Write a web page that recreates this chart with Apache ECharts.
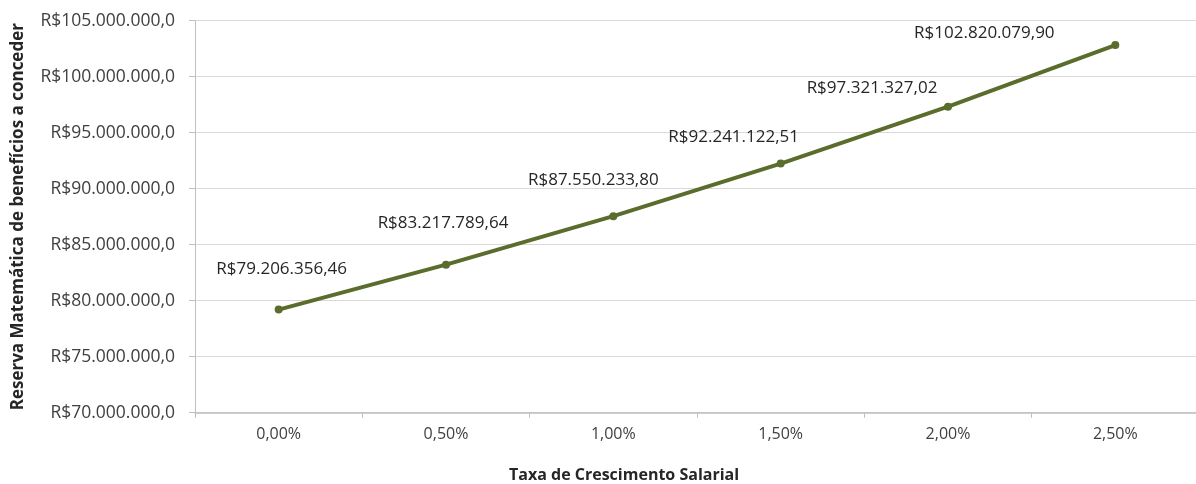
<!DOCTYPE html>
<html>
<head>
<meta charset="utf-8">
<script src="https://cdn.jsdelivr.net/npm/echarts@6/dist/echarts.min.js"></script>
<style>
html,body{margin:0;padding:0;background:#fff;}
#c{width:1196px;height:484px;}
</style>
</head>
<body>
<div id="c"></div>
<script>
const categories = ['0,00%', '0,50%', '1,00%', '1,50%', '2,00%', '2,50%'];
const values = [79206356.46, 83217789.64, 87550233.80, 92241122.51, 97321327.02, 102820079.90];
const yMin = 70000000, yMax = 105000000, yStep = 5000000;
const yAxisTitle = 'Reserva Matemática de benefícios a conceder';
const xAxisTitle = 'Taxa de Crescimento Salarial';
// label placement offsets (dx, dy) relative to each point
const labelOffsets = [[3, -40], [-3, -41], [-20, -35], [-47, -26], [-76, -18], [-131, -11]];

function fmtBR(v, dec) {
  const s = v.toFixed(dec);
  const parts = s.split('.');
  const int = parts[0].replace(/\B(?=(\d{3})+(?!\d))/g, '.');
  return 'R$' + int + (dec > 0 ? ',' + parts[1] : '');
}

const FONT = 'Open Sans';
const chart = echarts.init(document.getElementById('c'));
chart.setOption({
  animation: false,
  backgroundColor: '#ffffff',
  title: {
    text: xAxisTitle,
    left: 509,
    top: 467,
    padding: 0,
    textStyle: { fontFamily: FONT, fontSize: 16, fontWeight: 'bold', color: '#262626' }
  },
  grid: { left: 195, top: 20.7, width: 1004, height: 392, containLabel: false, outerBoundsMode: 'none' },
  xAxis: {
    type: 'category',
    data: categories,
    boundaryGap: true,
    axisLine: { lineStyle: { color: '#bfbfbf', width: 1.5 } },
    axisTick: { show: true, length: 5, lineStyle: { color: '#bfbfbf' } },
    axisLabel: { margin: 14, fontFamily: FONT, fontSize: 16, color: '#404040' },
    splitLine: { show: false }
  },
  yAxis: {
    type: 'value',
    min: yMin, max: yMax, interval: yStep,
    name: yAxisTitle,
    nameLocation: 'middle',
    nameGap: 168,
    nameRotate: 90,
    nameTextStyle: { fontFamily: FONT, fontSize: 17, fontWeight: 'bold', color: '#262626', padding: [0, 0, 0, 0] },
    axisLine: { show: true, lineStyle: { color: '#bfbfbf' } },
    axisTick: { show: true, length: 6, lineStyle: { color: '#bfbfbf' } },
    axisLabel: { margin: 20, fontFamily: FONT, fontSize: 17.5, color: '#404040',
      formatter: v => fmtBR(v, 1) },
    splitLine: { show: true, lineStyle: { color: '#d9d9d9', width: 1 } }
  },
  series: [{
    type: 'line',
    data: values.map((v, i) => ({
      value: v,
      label: { offset: [labelOffsets[i][0], labelOffsets[i][1] + 12] }
    })),
    lineStyle: { color: '#5a6d2c', width: 4 },
    itemStyle: { color: '#5a6d2c' },
    symbol: 'circle',
    symbolSize: 8,
    label: {
      show: true,
      position: 'top',
      distance: 0,
      fontFamily: FONT, fontSize: 17, color: '#262626',
      formatter: p => fmtBR(p.value, 2)
    }
  }]
});
</script>
</body>
</html>
